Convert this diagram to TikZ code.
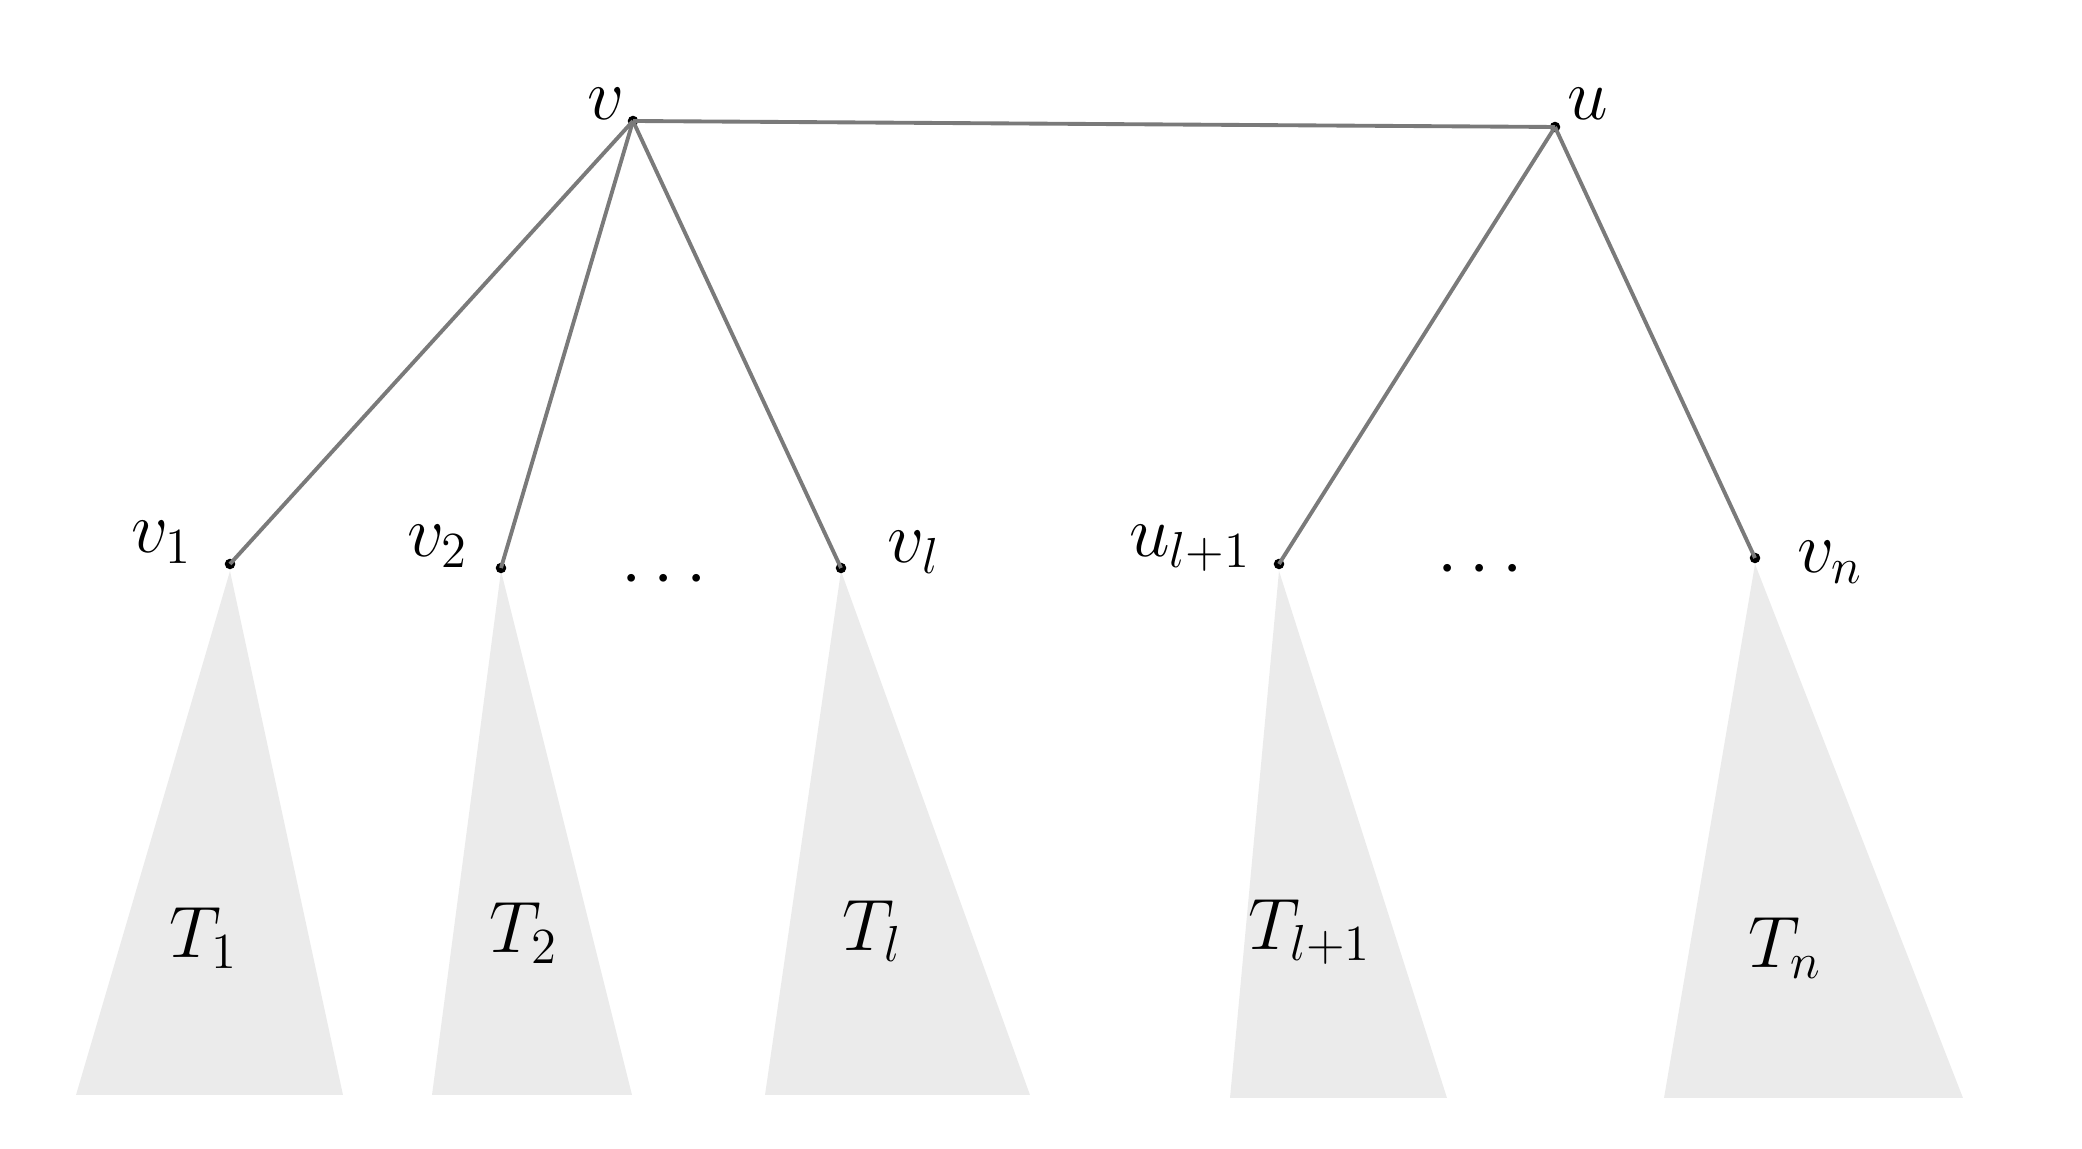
\documentclass[tikz,border=0pt]{standalone}
\begin{document}
\begin{tikzpicture}[x=0.1mm,y=-0.1mm,
  edge/.style={draw=black!52,line width=1.1pt},
  subtree/.style={fill=black!8,draw=none},
  vert/.style={circle,fill=black,inner sep=0pt,minimum size=3pt},
  lbl/.style={font=\fontsize{20}{22}\selectfont},
  tl/.style={font=\fontsize{21}{24}\selectfont}]
\useasboundingbox (0,0) rectangle (2082,1149);
% subtrees
\fill[subtree] (230,571) -- (343,1095) -- (76,1095) -- cycle;
\fill[subtree] (501,571) -- (632,1095) -- (432,1095) -- cycle;
\fill[subtree] (841,571) -- (1030,1095) -- (765,1095) -- cycle;
\fill[subtree] (1279,571) -- (1447,1098) -- (1230,1098) -- cycle;
\fill[subtree] (1755,564) -- (1963,1098) -- (1664,1098) -- cycle;
% vertices
\node[vert] (v) at (633,121) {};
\node[vert] (u) at (1555,127) {};
\node[vert] (v1) at (230,564) {};
\node[vert] (v2) at (501,568) {};
\node[vert] (vl) at (841,568) {};
\node[vert] (ul) at (1279,564) {};
\node[vert] (vn) at (1755,558) {};
% edges
\draw[edge] (v.center) -- (u.center);
\draw[edge] (v.center) -- (v1.center);
\draw[edge] (v.center) -- (v2.center);
\draw[edge] (v.center) -- (vl.center);
\draw[edge] (u.center) -- (ul.center);
\draw[edge] (u.center) -- (vn.center);
% labels
\node[lbl] (lv) at (606,104) {$v$};
\node[lbl] (lu) at (1588,104) {$u$};
\node[lbl] (lv1) at (162,542) {$v_1$};
\node[lbl] (lv2) at (438,546) {$v_2$};
\node[lbl] (lvl) at (914,552) {$v_l$};
\node[lbl] (lul) at (1190,548) {$u_{l+1}$};
\node[lbl] (lvn) at (1830,562) {$v_n$};
\node[lbl] (d1) at (664,580) {$\cdots$};
\node[lbl] (d2) at (1480,570) {$\cdots$};
\node[tl] (t1) at (204,938) {$T_1$};
\node[tl] (t2) at (524,933) {$T_2$};
\node[tl] (tl) at (872,931) {$T_l$};
\node[tl] (tl1) at (1310,932) {$T_{l+1}$};
\node[tl] (tn) at (1785,948) {$T_n$};
\end{tikzpicture}
\end{document}
